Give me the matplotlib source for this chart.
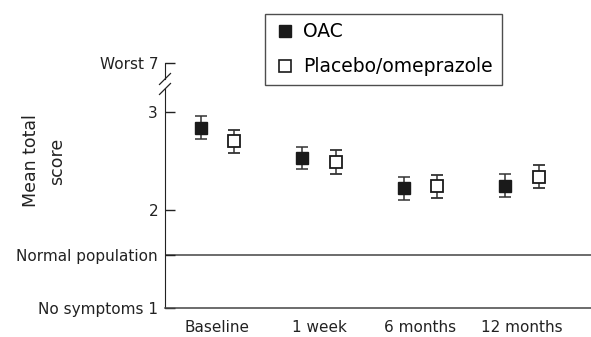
import matplotlib
matplotlib.use("Agg")
import matplotlib.pyplot as plt
from matplotlib.lines import Line2D
import numpy as np

categories = ["Baseline", "1 week", "6 months", "12 months"]
oac_mean = [2.84, 2.53, 2.22, 2.25]
oac_err = [0.115, 0.115, 0.115, 0.12]
pla_mean = [2.70, 2.49, 2.24, 2.34]
pla_err = [0.12, 0.12, 0.115, 0.115]
normal_population = 1.54
ytick_vals = [1, normal_population, 2, 3, 3.5]
ytick_labels = ["No symptoms 1", "Normal population", "2", "3", "Worst 7"]
series_names = ["OAC", "Placebo/omeprazole"]

plt.rcParams['font.family'] = ['DejaVu Sans']
W, H = 591, 337
fig = plt.figure(figsize=(W / 100, H / 100), dpi=100)
ax = fig.add_axes([165 / W, (337 - 308) / H, (591 - 165) / W, (308 - 63) / H])

x = np.arange(len(categories))
off = 0.163
ecol = "#333333"
ax.errorbar(x - off, oac_mean, yerr=oac_err, fmt="s", color=ecol, mfc="#1a1a1a",
            mec="#1a1a1a", ms=8.5, capsize=4, elinewidth=1.1, capthick=1.1, zorder=3)
ax.errorbar(x + off, pla_mean, yerr=pla_err, fmt="s", color=ecol, mfc="white",
            mec="#1a1a1a", mew=1.3, ms=8, capsize=4, elinewidth=1.1, capthick=1.1, zorder=3)

ax.axhline(normal_population, color="#444444", lw=1.1, zorder=1)

ax.set_xlim(-0.517, 3.68)
ax.set_ylim(1, 3.5)
ax.set_xticks(x)
ax.set_xticklabels(categories, fontsize=11, color="#222222")
ax.tick_params(axis="x", length=0, pad=9)
ax.set_yticks(ytick_vals)
ax.set_yticklabels(ytick_labels, fontsize=11, color="#222222")
ax.tick_params(axis="y", direction="in", length=7, width=1, pad=5, color="#222222")

for s in ["top", "right"]:
    ax.spines[s].set_visible(False)
ax.spines["left"].set_bounds(1, 3.235)
ax.spines["left"].set_color("#222222")
ax.spines["bottom"].set_color("#444444")
ax.spines["bottom"].set_linewidth(1.1)

# axis break
tr = ax.get_yaxis_transform()
ax.add_line(Line2D([0, 0], [3.337, 3.5], transform=tr, color="#222222", lw=0.8, clip_on=False))
for yc in [3.337, 3.235]:
    ax.add_line(Line2D([-0.0129, 0.0129], [yc - 0.056, yc + 0.056], transform=tr,
                       color="#222222", lw=0.9, clip_on=False))

fig.text(44 / W, 1 - 161 / H, "Mean total\nscore", rotation=90, ha="center", va="center",
         fontsize=12.5, color="#222222", linespacing=1.55, multialignment="center")

handles = [
    Line2D([], [], marker="s", ls="none", mfc="#1a1a1a", mec="#1a1a1a", ms=9),
    Line2D([], [], marker="s", ls="none", mfc="white", mec="#1a1a1a", mew=1.2, ms=9),
]
leg = fig.legend(handles, series_names, loc="upper left",
                 bbox_to_anchor=(265 / W, 1 - 14 / H), borderaxespad=0,
                 fontsize=13.5, frameon=True,
                 fancybox=False, edgecolor="#222222", handletextpad=0.4,
                 handlelength=1.2, borderpad=0.45, labelspacing=0.85)
leg.get_frame().set_linewidth(1.0)

fig.savefig("out.png", dpi=100)
